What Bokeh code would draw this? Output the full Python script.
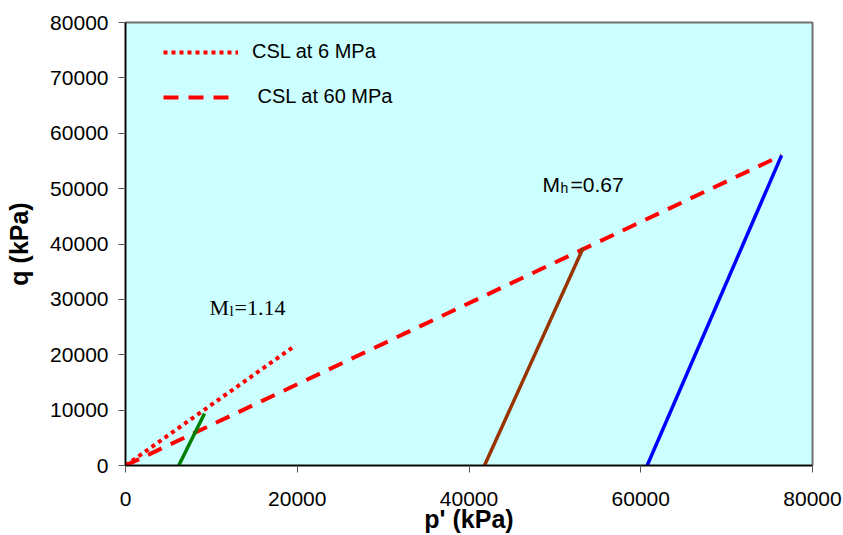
from bokeh.plotting import figure
from bokeh.models import FixedTicker, Legend, LegendItem, Range1d
from bokeh.core.properties import value
from bokeh.embed import file_html
from bokeh.resources import INLINE

# ---- data ----
csl6_p = [0, 19800]
csl6_q = [0, 21700]
csl60_p = [0, 76400]
csl60_q = [0, 56000]
green_p = [6200, 9200]
green_q = [0, 9400]
brown_p = [41800, 53300]
brown_q = [0, 39300]
blue_p = [60750, 76400]
blue_q = [0, 56000]
x_ticks = [0, 20000, 40000, 60000, 80000]
y_ticks = [0, 10000, 20000, 30000, 40000, 50000, 60000, 70000, 80000]
legend_labels = ["CSL at 6 MPa", " CSL at 60 MPa"]
ml_pos = (9782, 28533)
mh_pos = (48559, 50745)

p = figure(width=843, height=535, output_backend="svg", toolbar_location=None,
           x_range=Range1d(0, 80000), y_range=Range1d(0, 80000))
p.min_border_left = 125
p.min_border_right = 31
p.min_border_top = 22
p.min_border_bottom = 70
p.background_fill_color = "#CCFFFF"
p.border_fill_color = "white"
p.outline_line_color = "#707070"
p.outline_line_width = 2
p.grid.visible = False

for ax in (p.xaxis[0], p.yaxis[0]):
    ax.axis_line_color = "black"
    ax.axis_line_width = 1.5
    ax.major_tick_line_color = "#555555"
    ax.major_tick_out = 7
    ax.major_tick_in = 0
    ax.minor_tick_line_color = None
    ax.major_label_text_font = "Liberation Sans"
    ax.major_label_text_font_size = "21px"
    ax.major_label_text_color = "black"
    ax.axis_label_text_font = "Liberation Sans"
    ax.axis_label_text_font_style = "bold"
    ax.axis_label_text_font_size = "25px"
    ax.axis_label_text_color = "black"

p.xaxis.ticker = FixedTicker(ticks=x_ticks)
p.yaxis.ticker = FixedTicker(ticks=y_ticks)
p.xaxis.major_label_overrides = {t: str(t) for t in x_ticks}
p.yaxis.major_label_overrides = {t: str(t) for t in y_ticks}
p.xaxis.axis_label = "p' (kPa)"
p.yaxis.axis_label = "q (kPa)"
p.xaxis.major_label_standoff = 19
p.yaxis.major_label_standoff = 10
p.xaxis.axis_label_standoff = -4
p.yaxis.axis_label_standoff = 14

r6 = p.line(csl6_p, csl6_q, line_color="#FF0000", line_width=4, line_dash="4 4")
r60 = p.line(csl60_p, csl60_q, line_color="#FF0000", line_width=4, line_dash="15 10")
p.line(green_p, green_q, line_color="#008000", line_width=3.5)
p.line(brown_p, brown_q, line_color="#993300", line_width=3.5)
p.line(blue_p, blue_q, line_color="#0000FF", line_width=3.5)

# annotations M_l=1.14 (Times) and M_h=0.67 (Arial) with subscripts
serif = value("Liberation Serif")
sans = value("Liberation Sans")
p.text(x=[ml_pos[0]], y=[ml_pos[1]], text=["M"], text_font=serif, text_font_size="22px",
       text_baseline="alphabetic", text_align="left", text_color="black")
p.text(x=[ml_pos[0]], y=[ml_pos[1]], text=["l"], text_font=serif, text_font_size="15px",
       text_baseline="alphabetic", text_align="left", x_offset=20, y_offset=4, text_color="black")
p.text(x=[ml_pos[0]], y=[ml_pos[1]], text=["=1.14"], text_font=serif, text_font_size="22px",
       text_baseline="alphabetic", text_align="left", x_offset=25, text_color="black")

p.text(x=[mh_pos[0]], y=[mh_pos[1]], text=["M"], text_font=sans, text_font_size="21px",
       text_baseline="alphabetic", text_align="left", text_color="black")
p.text(x=[mh_pos[0]], y=[mh_pos[1]], text=["h"], text_font=sans, text_font_size="14px",
       text_baseline="alphabetic", text_align="left", x_offset=18, y_offset=4, text_color="black")
p.text(x=[mh_pos[0]], y=[mh_pos[1]], text=["=0.67"], text_font=sans, text_font_size="21px",
       text_baseline="alphabetic", text_align="left", x_offset=28, text_color="black")

legend = Legend(items=[LegendItem(label=legend_labels[0], renderers=[r6]),
                       LegendItem(label=legend_labels[1], renderers=[r60])],
                location=(38, 357))
legend.margin = 0
legend.padding = 0
legend.spacing = 22
legend.glyph_width = 75
legend.glyph_height = 20
legend.label_height = 20
legend.label_standoff = 14
legend.label_text_font = "Liberation Sans"
legend.label_text_font_size = "20px"
legend.label_text_color = "black"
legend.border_line_color = None
legend.background_fill_alpha = 0
p.add_layout(legend)

open("out.html", "w").write(file_html(p, INLINE))
